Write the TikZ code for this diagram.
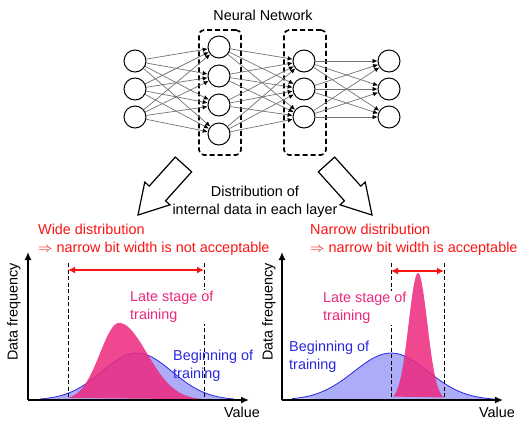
\documentclass[tikz,border=0pt]{standalone}
\usepackage{fontspec}
\setmainfont{Liberation Sans}
\usetikzlibrary{arrows.meta, positioning}

\definecolor{warnred}{RGB}{250,20,20}
\definecolor{latepink}{RGB}{236,40,125}
\definecolor{beginblue}{RGB}{40,40,225}
\definecolor{beginfill}{RGB}{172,172,248}

\begin{document}
\begin{tikzpicture}[x=1pt, y=-1pt,
    font=\fontsize{14.4}{18}\selectfont,
    neuron/.style={circle, draw, line width=1pt, fill=white, minimum size=22pt, inner sep=0pt},
    layerbox/.style={rectangle, draw, dashed, dash pattern=on 5pt off 3pt, line width=1.6pt, rounded corners=5pt, minimum width=42pt, minimum height=125pt},
    link/.style={draw, black!55, line width=0.7pt, -{Latex[length=5pt, width=4.5pt, color=black]}},
    bigarrow/.style={draw, line width=1.2pt, fill=white, line join=miter},
    axisline/.style={draw, line width=1.4pt, -{Latex[length=8pt, width=7pt]}},
    spanarrow/.style={draw, warnred, line width=1.6pt, {Latex[length=7pt, width=7pt]}-{Latex[length=7pt, width=7pt]}},
    boundline/.style={draw, dash pattern=on 4pt off 2.5pt, line width=1pt},
    labeltext/.style={align=left, inner sep=1pt}
]
    \useasboundingbox (0,0) rectangle (532,432);

    % Network
    \node (title) at (263,15) {Neural Network};
    \node [layerbox] (boxA) at (220,92.5) {};
    \node [layerbox] (boxB) at (305,92.5) {};

    \foreach \i/\y in {1/61, 2/89, 3/117} \node [neuron] (in\i) at (135,\y) {};
    \foreach \i/\y in {1/47, 2/76, 3/105, 4/134} \node [neuron] (hidA\i) at (219,\y) {};
    \foreach \i/\y in {1/61, 2/89, 3/117} \node [neuron] (hidB\i) at (304,\y) {};
    \foreach \i/\y in {1/61, 2/89, 3/117} \node [neuron] (out\i) at (389,\y) {};

    \foreach \i in {1,2,3} \foreach \j in {1,...,4} \path [link] (in\i) -- (hidA\j);
    \foreach \i in {1,...,4} \foreach \j in {1,2,3} \path [link] (hidA\i) -- (hidB\j);
    \foreach \i in {1,2,3} \foreach \j in {1,2,3} \path [link] (hidB\i) -- (out\j);

    % Hollow arrows
    \begin{scope}[shift={(138,215)}, rotate=48]
        \path [bigarrow] (0,0) -- (29,17) -- (29,11) -- (68,11) -- (68,-11) -- (29,-11) -- (29,-17) -- cycle;
    \end{scope}
    \begin{scope}[shift={(372,215)}, rotate=132]
        \path [bigarrow] (0,0) -- (29,17) -- (29,11) -- (68,11) -- (68,-11) -- (29,-11) -- (29,-17) -- cycle;
    \end{scope}
    \node [align=center] (dist) at (255,202) {Distribution of\\internal data in each layer};

    % Headings
    \node [labeltext, warnred, anchor=west] (wide) at (37,240) {Wide distribution\\$\Rightarrow$ narrow bit width is not acceptable};
    \node [labeltext, warnred, anchor=west] (narrow) at (309,240) {Narrow distribution\\$\Rightarrow$ narrow bit width is acceptable};

    % Left plot
    \filldraw [beginblue, fill=beginfill, line width=0.8pt] plot[domain=40:234, samples=70] (\x,{400-47*exp(-0.5*((\x-137)/35)^2)});
    \fill [latepink, opacity=0.85] plot[domain=68:119, samples=40] (\x,{400-77*exp(-0.5*((\x-119)/19)^2)})
        -- plot[domain=119:204, samples=50] (\x,{400-77*exp(-0.5*((\x-119)/28)^2)}) -- cycle;
    \coordinate (originL) at (28,400);
    \coordinate (xendL) at (249,400);
    \coordinate (yendL) at (28,252);
    \path [axisline] (originL) -- (xendL);
    \path [axisline] (originL) -- (yendL);
    \path [boundline] (68,263) -- (68,400);
    \path [boundline] (204,263) -- (204,400);
    \node [labeltext, latepink, fill=white, anchor=west] (lateL) at (129,307) {Late stage of\\training};
    \node [labeltext, beginblue, anchor=west] (beginL) at (172,366) {Beginning of\\training};
    \path [spanarrow] (68,270) -- (204,270);
    \node [rotate=90] (freqL) at (14,312) {Data frequency};
    \node (valL) at (242,412) {Value};

    % Right plot
    \filldraw [beginblue, fill=beginfill, line width=0.8pt] plot[domain=292:495, samples=70] (\x,{400-47*exp(-0.5*((\x-391)/37)^2)});
    \fill [latepink, opacity=0.85] plot[domain=393:444, samples=60] (\x,{400-127*exp(-0.5*((\x-418)/9.3)^2)}) -- cycle;
    \coordinate (originR) at (282,400);
    \coordinate (xendR) at (503,400);
    \coordinate (yendR) at (282,252);
    \path [axisline] (originR) -- (xendR);
    \path [axisline] (originR) -- (yendR);
    \path [boundline] (391,263) -- (391,400);
    \path [boundline] (444,263) -- (444,400);
    \node [labeltext, latepink, fill=white, anchor=west] (lateR) at (322,308) {Late stage of\\training};
    \node [labeltext, beginblue, anchor=west] (beginR) at (288,357) {Beginning of\\training};
    \path [spanarrow] (391,271) -- (444,271);
    \node [rotate=90] (freqR) at (269,312) {Data frequency};
    \node (valR) at (497,412) {Value};
\end{tikzpicture}
\end{document}
